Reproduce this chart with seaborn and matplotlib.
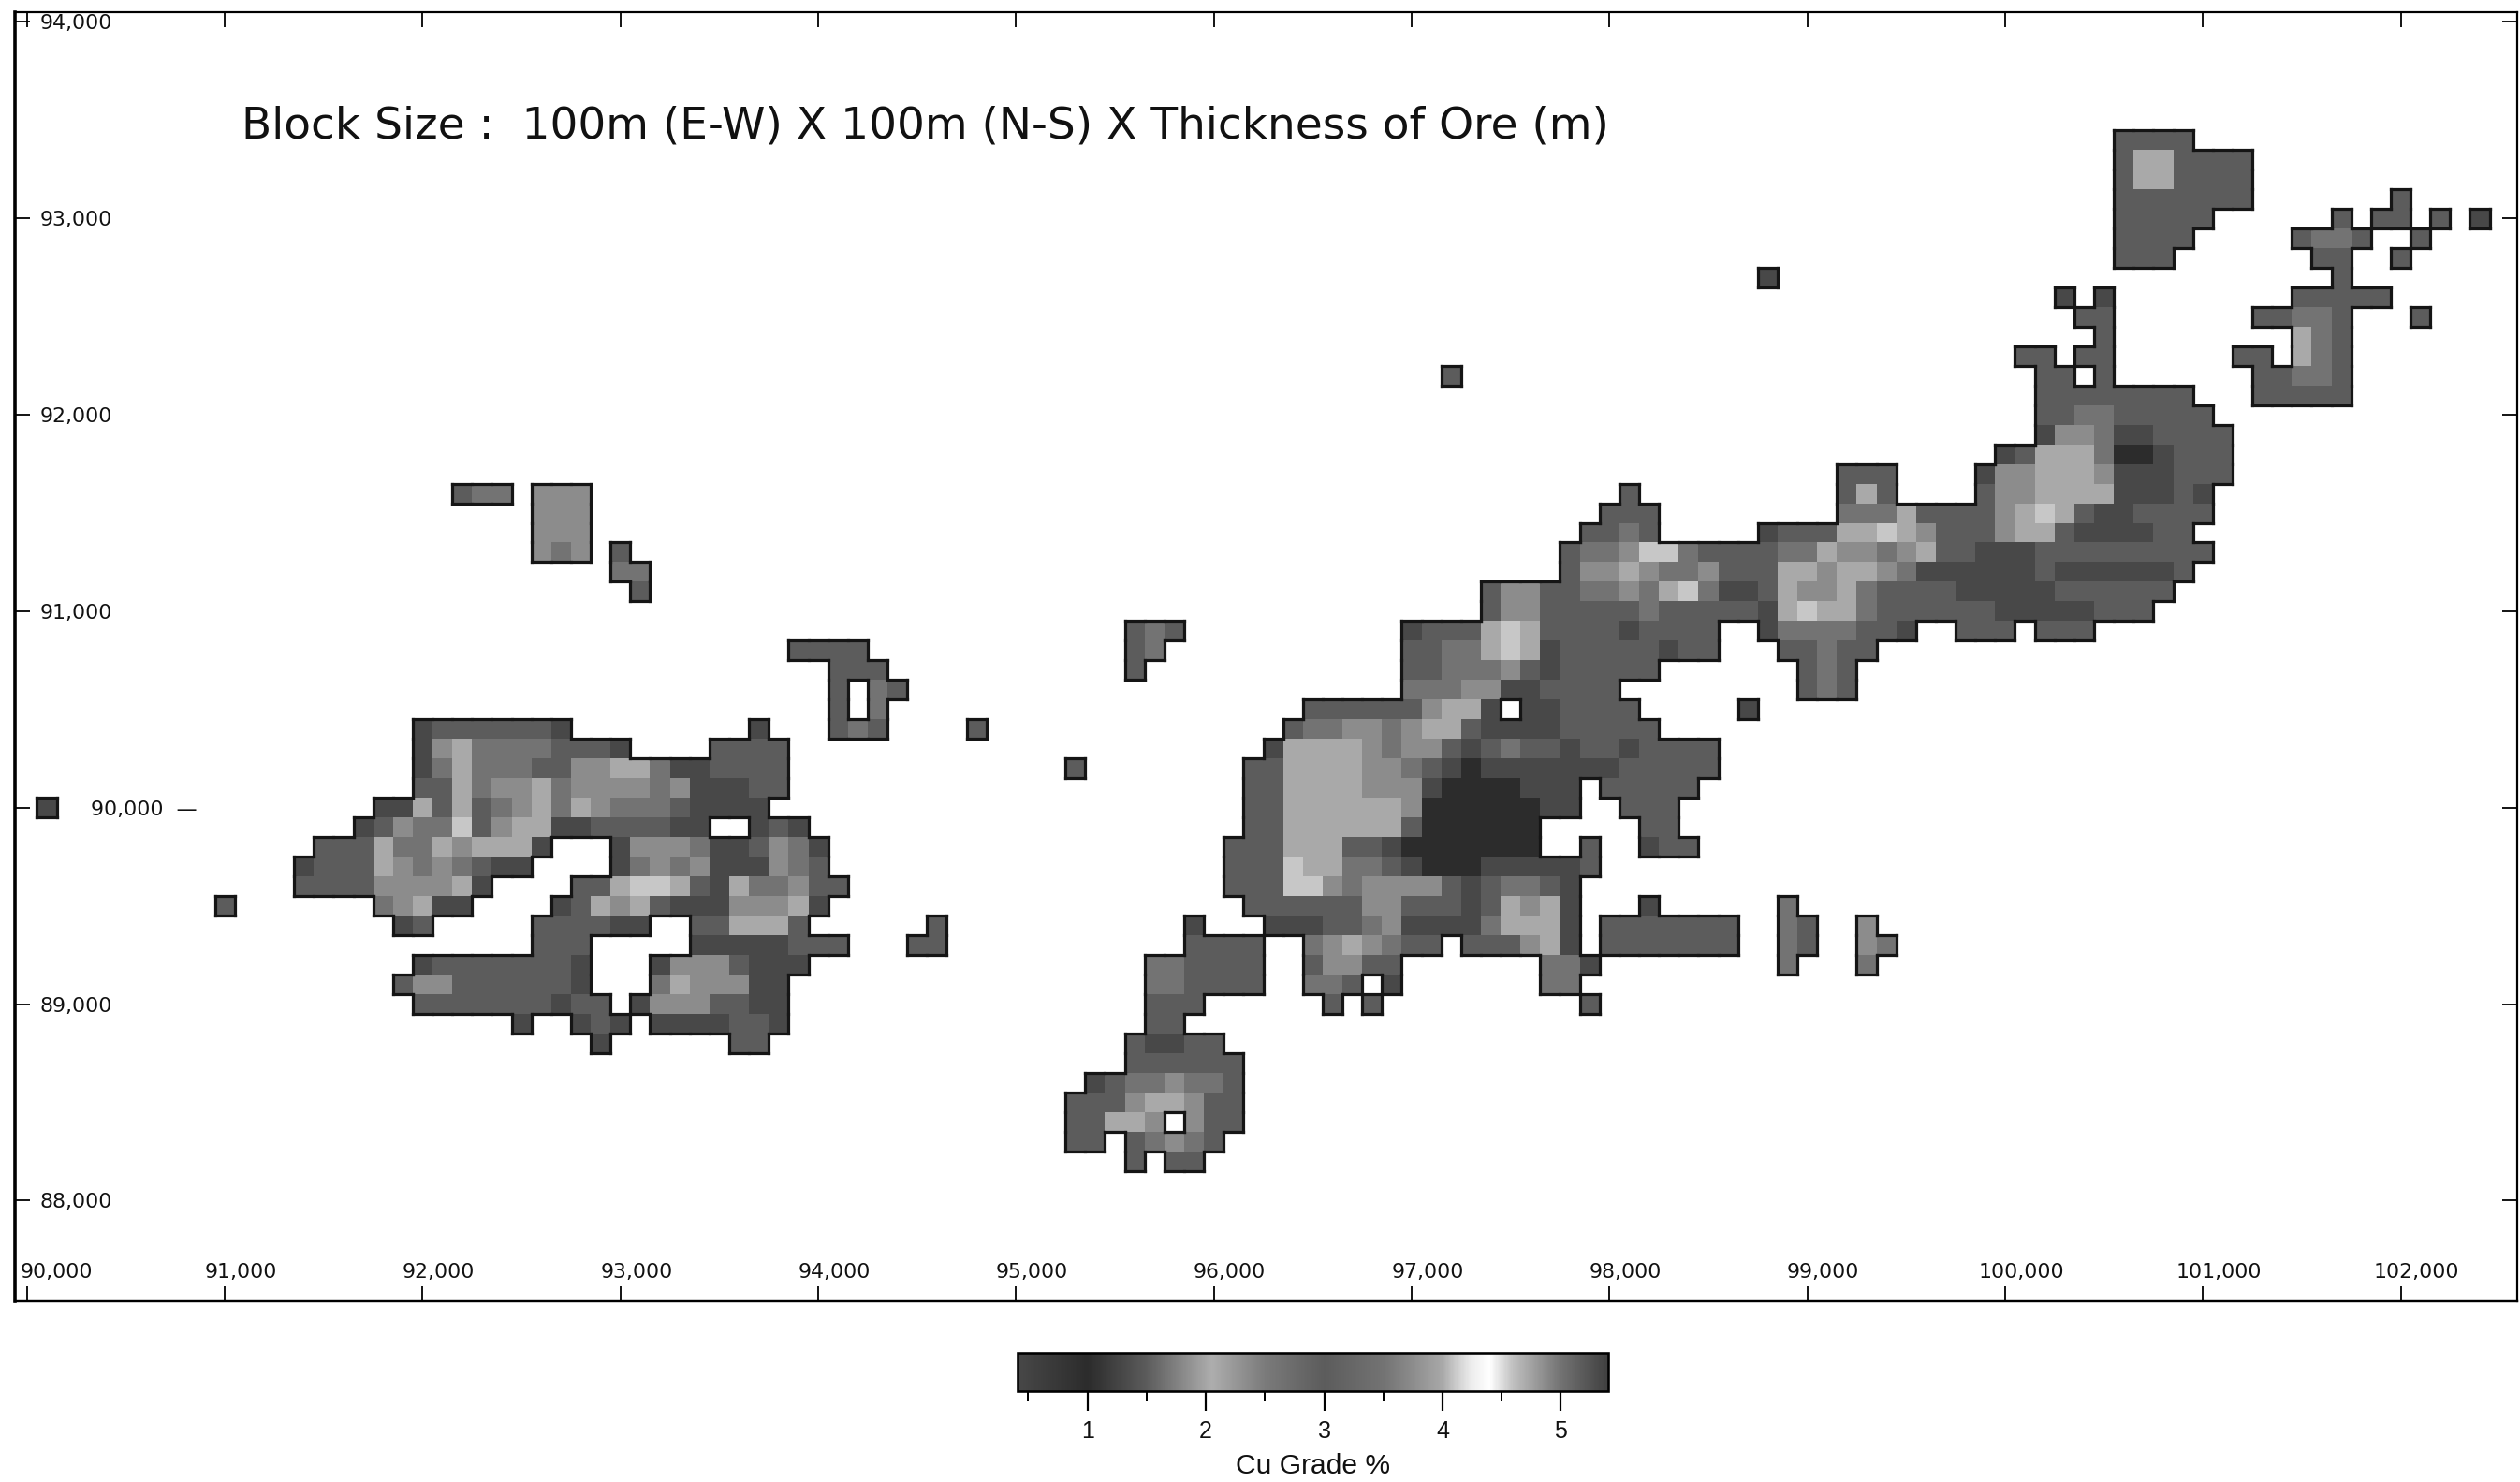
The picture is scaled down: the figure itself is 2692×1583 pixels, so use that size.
import numpy as np
import pandas as pd
import matplotlib
matplotlib.use("Agg")
import matplotlib.pyplot as plt
from matplotlib.collections import LineCollection
from matplotlib.colors import LinearSegmentedColormap
from matplotlib.transforms import ScaledTranslation
import seaborn as sns

# Cu grade (%) represented by each grey class
GRADE_BY_CLASS = {"1": 1.0, "2": 1.3, "3": 3.0, "4": 3.5, "5": 3.75, "6": 4.0, "7": 4.1}

EASTINGS = list(range(90000, 102700, 100))
NORTHINGS = list(range(94000, 87400, -100))
X_TICK_VALUES = [90000, 91000, 92000, 93000, 94000, 95000, 96000, 97000, 98000, 99000, 100000, 101000, 102000]
Y_TICK_VALUES = [94000, 93000, 92000, 91000, 90000, 89000, 88000]
CBAR_MAJOR = [1, 2, 3, 4, 5]
CBAR_MINOR = [0.5, 1.5, 2.5, 3.5, 4.5]
GRADE_MIN, GRADE_MAX = 0.41, 5.4
# colour scale: grade -> grey level
SCALE_GRADES = [0.41, 1.0, 1.5, 2.05, 2.5, 3.0, 3.5, 3.75, 4.0, 4.1, 4.25, 4.4, 4.6, 5.0, 5.4]
SCALE_GREYS = [0.28, 0.17, 0.36, 0.68, 0.48, 0.36, 0.45, 0.55, 0.66, 0.78, 0.93, 1.0, 0.75, 0.45, 0.25]

# (northing, first easting of the run, grey class of each 100 m block going east)
WEST_BLOCKS = [
    (91600, 92200, "344"), (91600, 92600, "555"), (91500, 92600, "555"), (91400, 92600, "555"),
    (91300, 92600, "545"), (91300, 93000, "3"), (91200, 93000, "44"), (91100, 93100, "3"),
    (90800, 93900, "3333"), (90700, 94100, "333"), (90600, 94100, "3"), (90600, 94300, "43"),
    (90500, 94100, "3"), (90500, 94300, "4"),
    (90400, 92000, "23333332"), (90400, 93700, "2"), (90400, 94100, "343"), (90400, 94800, "3"),
    (90300, 92000, "25644443332"), (90300, 93500, "3333"),
    (90200, 92000, "2464443355664223333"),
    (90100, 92000, "3364556455554522233"),
    (90000, 90100, "2"), (90000, 91800, "22636345646544432222"),
    (89900, 91700, "235447356622333322"), (89900, 93700, "232"),
    (89800, 91500, "333644656662"), (89800, 93000, "25554223542"),
    (89700, 91400, "233365454322"), (89700, 93000, "24545222543"),
    (89600, 91400, "3333555562"), (89600, 92800, "33677632644533"),
    (89500, 91000, "3"), (89500, 91800, "45622"), (89500, 92700, "23656322255562"),
    (89400, 91900, "23"), (89400, 92600, "333322"), (89400, 93400, "336663"), (89400, 94600, "3"),
    (89300, 92600, "333"), (89300, 93400, "22222333"), (89300, 94500, "33"),
    (89200, 92000, "233333332"), (89200, 93200, "25553222"),
    (89100, 91900, "3553333332"), (89100, 93200, "4655522"),
    (89000, 92000, "3333333233"), (89000, 93100, "25553322"),
    (88900, 92500, "2"), (88900, 92800, "232"), (88900, 93200, "2222332"),
    (88800, 92900, "2"), (88800, 93600, "33"),
]

CENTRAL_BLOCKS = [
    (88200, 95600, "3"), (88200, 95800, "33"),
    (88300, 95300, "33"), (88300, 95600, "34543"),
    (88400, 95300, "33665"), (88400, 95900, "533"),
    (88500, 95300, "333566533"),
    (88600, 95400, "23445443"),
    (88700, 95600, "333333"),
    (88800, 95600, "32233"),
    (88900, 95700, "33"),
    (89000, 95700, "333"), (89000, 96600, "3"), (89000, 96800, "3"), (89000, 97900, "3"),
    (89100, 95700, "443333"), (89100, 96500, "443"), (89100, 96900, "2"), (89100, 97700, "44"),
    (89200, 95700, "443333"), (89200, 96500, "35533"), (89200, 97700, "442"), (89200, 98900, "4"), (89200, 99300, "4"),
    (89300, 95900, "3333"), (89300, 96500, "4565433"), (89300, 97300, "333562"), (89300, 98000, "3333333"),
    (89300, 98900, "43"), (89300, 99300, "54"),
    (89400, 95900, "2"), (89400, 96300, "2223345222246662"), (89400, 98000, "3333333"),
    (89400, 98900, "43"), (89400, 99300, "5"),
    (89500, 96200, "33333355333236562"), (89500, 98200, "2"), (89500, 98900, "4"),
    (89600, 96100, "333775455553234432"),
    (89700, 96100, "3337664432111222223"),
    (89800, 96100, "3336663321111111"), (89800, 97900, "3"), (89800, 98200, "233"),
    (89900, 96200, "336666663111111"), (89900, 98200, "33"),
    (90000, 96200, "33666666511111122"), (90000, 98100, "333"),
    (90100, 96200, "33666655521111222"), (90100, 98000, "33333"),
    (90200, 95300, "3"), (90200, 96200, "336666554321222222233333"),
    (90300, 96300, "26666545532343323323333"),
    (90400, 96400, "3445545663222233333"),
    (90500, 96500, "3333335662"), (90500, 97600, "223333"), (90500, 98700, "2"),
    (90600, 97000, "44455223333"),
    (90700, 95600, "3"), (90700, 97000, "3344453233333"),
    (90800, 95600, "34"), (90800, 97000, "3344676233333233"),
    (90900, 95600, "343"), (90900, 97000, "2333676333323333"),
]

EAST_BLOCKS = [
    (90600, 99000, "343"), (90700, 99000, "343"), (90800, 98900, "33433"),
    (90900, 98800, "24444332"), (90900, 99800, "333"), (90900, 100200, "333"),
    (91000, 97400, "3553333343333326766433333322222333"),
    (91100, 97400, "35533445467422365564333322222333333"),
    (91200, 97800, "35565445333665665422222232222223"),
    (91300, 97800, "344577433334465545633222333333333"),
    (91400, 97900, "3343"), (91400, 98800, "2333667653335663222233"),
    (91500, 98000, "333"), (91500, 99200, "4446333356763223333"),
    (91600, 98100, "3"), (91600, 99200, "363"), (91600, 99900, "355666622232"),
    (91700, 99200, "333"), (91700, 99900, "2556665222333"),
    (91800, 100000, "236664112333"),
    (91900, 100200, "2554223333"),
    (92000, 100200, "334433333"),
    (92100, 100200, "33333333"), (92100, 101300, "33333"),
    (92200, 97200, "3"), (92200, 100200, "33"), (92200, 100500, "3"), (92200, 101300, "33443"),
    (92300, 100100, "33"), (92300, 100400, "33"), (92300, 101200, "33"), (92300, 101500, "643"),
    (92400, 100500, "3"), (92400, 101500, "643"),
    (92500, 100400, "33"), (92500, 101300, "33443"), (92500, 102100, "3"),
    (92600, 100300, "2"), (92600, 100500, "2"), (92600, 101500, "33333"),
    (92700, 98800, "2"), (92700, 101700, "3"),
    (92800, 100600, "333"), (92800, 101600, "33"), (92800, 102000, "3"),
    (92900, 100600, "3333"), (92900, 101500, "3443"), (92900, 102100, "3"),
    (93000, 100600, "33333"), (93000, 101700, "3"), (93000, 101900, "33"), (93000, 102200, "3"), (93000, 102400, "2"),
    (93100, 100600, "3333333"), (93100, 102000, "3"),
    (93200, 100600, "3663333"),
    (93300, 100600, "3663333"),
    (93400, 100600, "3333"),
]

TITLE = "Block Size :  100m (E-W) X 100m (N-S) X Thickness of Ore (m)"
CBAR_LABEL = "Cu Grade %"

W, H = 2692, 1583
DPI = 100
PT = 72 / DPI  # points per pixel

sns.set_theme(style="white")
plt.rcParams["font.family"] = ["DejaVu Sans"]

grades = pd.DataFrame(np.nan, index=NORTHINGS, columns=EASTINGS)
for northing, easting, classes in WEST_BLOCKS + CENTRAL_BLOCKS + EAST_BLOCKS:
    for k, cls in enumerate(classes):
        grades.loc[northing, easting + 100 * k] = GRADE_BY_CLASS[cls]

span = GRADE_MAX - GRADE_MIN
cmap = LinearSegmentedColormap.from_list(
    "cu_grade",
    [((g - GRADE_MIN) / span, (v, v, v)) for g, v in zip(SCALE_GRADES, SCALE_GREYS)],
    N=512,
)


def axes_box(left, top, right, bottom):
    return [left / W, 1 - bottom / H, (right - left) / W, (bottom - top) / H]


fig = plt.figure(figsize=(W / DPI, H / DPI), dpi=DPI, facecolor="white")
ax = fig.add_axes(axes_box(16, 13, 2689, 1390))
cax = fig.add_axes(axes_box(1087, 1445, 1718, 1486))

sns.heatmap(
    grades, ax=ax, cbar_ax=cax, cmap=cmap, vmin=GRADE_MIN, vmax=GRADE_MAX,
    xticklabels=False, yticklabels=False, square=False,
    cbar_kws={"orientation": "horizontal", "ticks": CBAR_MAJOR},
)
ax.set_xlabel("")
ax.set_ylabel("")
ax.set_xlim(-0.11, 126.39)
ax.set_ylim(65.63, 0)

# dark rim of the printed ore-block outlines, taken from the block mask itself
mask = np.pad(grades.notna().to_numpy(), 1, constant_values=False)
rim = []
for i, j in zip(*np.nonzero(mask)):
    y, x = i - 1, j - 1
    if not mask[i - 1, j]:
        rim.append([(x, y), (x + 1, y)])
    if not mask[i + 1, j]:
        rim.append([(x, y + 1), (x + 1, y + 1)])
    if not mask[i, j - 1]:
        rim.append([(x, y), (x, y + 1)])
    if not mask[i, j + 1]:
        rim.append([(x + 1, y), (x + 1, y + 1)])
ax.add_collection(LineCollection(rim, colors="#151515", linewidths=3.2 * PT, capstyle="projecting"))

for name, lw in {"left": 3.6, "bottom": 2.4, "top": 2.2, "right": 2.2}.items():
    ax.spines[name].set_visible(True)
    ax.spines[name].set_color("black")
    ax.spines[name].set_linewidth(lw * PT)

ax.set_xticks([EASTINGS.index(v) + 0.5 for v in X_TICK_VALUES])
ax.set_xticklabels([f"{v:,}" for v in X_TICK_VALUES], fontsize=22 * PT, color="#111111")
ax.set_yticks([NORTHINGS.index(v) + 0.5 for v in Y_TICK_VALUES])
ax.set_yticklabels([f"{v:,}  —" if v == 90000 else f"{v:,}" for v in Y_TICK_VALUES],
                   fontsize=22 * PT, color="#111111", ha="left")
ax.tick_params(axis="x", which="major", direction="in", bottom=True, top=True,
               length=16 * PT, width=1.8 * PT, color="black", pad=-41 * PT)
ax.tick_params(axis="y", which="major", direction="in", left=True, right=True,
               length=16 * PT, width=1.8 * PT, color="black", pad=-27 * PT)
for tick, value in zip(ax.yaxis.get_major_ticks(), Y_TICK_VALUES):
    if value == 90000:
        tick.set_pad(-81 * PT)
for label, value in zip(ax.get_xticklabels(), X_TICK_VALUES):
    dx = 31 if value == 90000 else 17
    label.set_transform(label.get_transform() + ScaledTranslation(dx / DPI, 0, fig.dpi_scale_trans))

ax.text((258 - 16) / 2673, 1 - (135 - 13) / 1377, TITLE, transform=ax.transAxes,
        fontsize=47 * PT, color="#111111", ha="left", va="center")

cbar = ax.collections[0].colorbar
cbar.outline.set_edgecolor("black")
cbar.outline.set_linewidth(2.6 * PT)
cbar.ax.xaxis.set_ticks(CBAR_MINOR, minor=True)
cbar.ax.tick_params(axis="x", which="major", direction="out", bottom=True, length=21 * PT,
                    width=2.2 * PT, color="black", pad=10 * PT)
cbar.ax.tick_params(axis="x", which="minor", direction="out", bottom=True, length=11 * PT,
                    width=2 * PT, color="black")
for label in cbar.ax.get_xticklabels():
    label.set_fontfamily("Liberation Sans")
    label.set_fontsize(25 * PT)
    label.set_color("#111111")
cbar.ax.set_xlabel(CBAR_LABEL, family="Liberation Sans", fontsize=30 * PT, color="#111111", labelpad=11 * PT)

fig.savefig("out.png", dpi=DPI, facecolor="white")
